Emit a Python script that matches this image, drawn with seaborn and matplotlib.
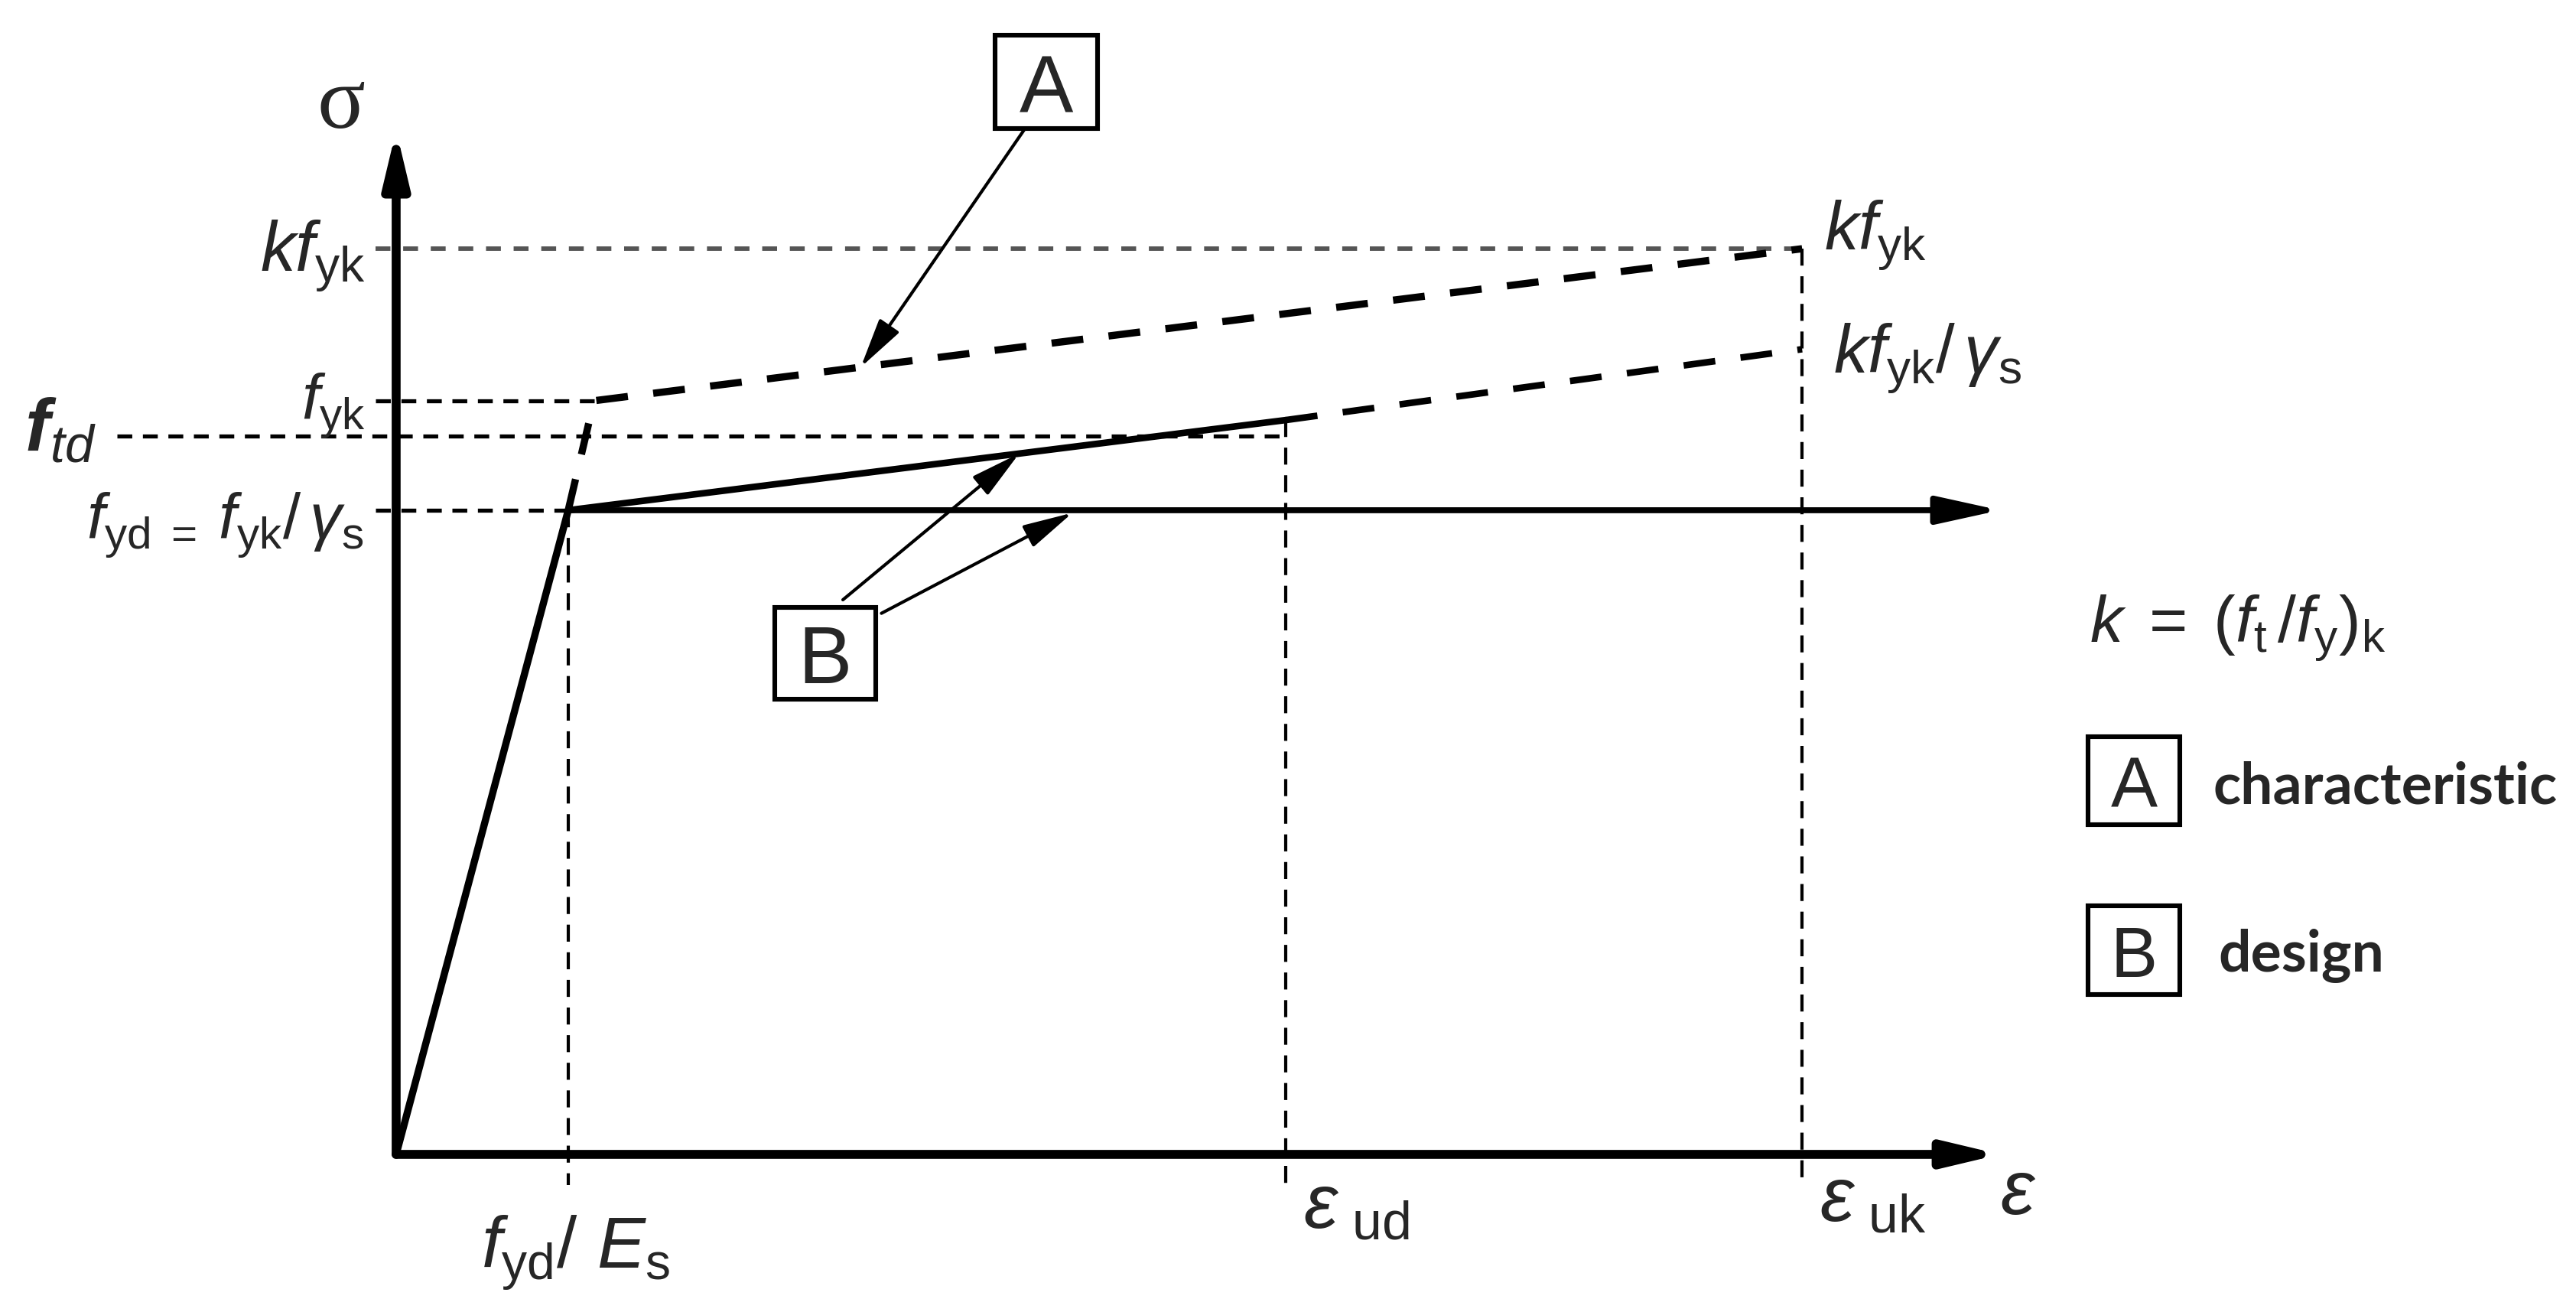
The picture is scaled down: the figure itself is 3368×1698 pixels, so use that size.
import numpy as np
import matplotlib
matplotlib.use("Agg")
import matplotlib.pyplot as plt
from matplotlib.patches import Rectangle
import seaborn as sns

# strain in units of fyd/Es, stress in units of fyd
eps_yd = 1.0
eps_yk = 1.15
eps_ud = 5.17
eps_uk = 8.17
eps_end = 9.32

f_yd = 1.0
f_td = 1.115
f_yk = 1.170
f_B_ud = 1.140
kf_yd = 1.25
kf_yk = 1.406
sigma_end = 1.59

elastic_eps = [0.0, eps_yd]
elastic_sig = [0.0, f_yd]
design_eps = [eps_yd, eps_ud]
design_sig = [f_yd, f_B_ud]
design_ext_eps = [eps_ud, eps_uk]
design_ext_sig = [f_B_ud, kf_yd]
char_eps = [eps_yd, eps_yk, eps_uk]
char_sig = [f_yd, f_yk, kf_yk]

sns.set_theme(style="white")
plt.rcParams["font.family"] = ["Liberation Sans", "DejaVu Sans"]
plt.rcParams["mathtext.fontset"] = "custom"
plt.rcParams["mathtext.rm"] = "Liberation Sans"
plt.rcParams["mathtext.it"] = "Liberation Sans:italic"
plt.rcParams["mathtext.bf"] = "Liberation Sans:bold"
plt.rcParams["mathtext.bfit"] = "Liberation Sans:italic:bold"
plt.rcParams["lines.scale_dashes"] = False

fig = plt.figure(figsize=(16.84, 8.495), dpi=200)
ax = fig.add_axes([0, 0, 1, 1])

# reference lines
thin = dict(color="black", lw=1.9, linestyle=(0, (7, 5)))
vert = dict(color="black", lw=1.5, linestyle=(0, (8, 5)))
ax.plot([-0.12, eps_uk], [kf_yk, kf_yk], color="#555555", lw=2.1, linestyle=(0, (7, 6)))
ax.plot([-0.12, eps_yk], [f_yk, f_yk], **thin)
ax.plot([-1.62, eps_ud], [f_td, f_td], **thin)
ax.plot([-0.12, eps_yd], [f_yd, f_yd], **thin)
ax.plot([eps_yd, eps_yd], [f_yd, -0.048], **vert)
ax.plot([eps_ud, eps_ud], [f_B_ud, -0.048], **vert)
ax.plot([eps_uk, eps_uk], [kf_yk, -0.048], **vert)

# stress-strain curves
solid = dict(ax=ax, color="black", sort=False, estimator=None)
sns.lineplot(x=elastic_eps, y=elastic_sig, lw=3.4, **solid)
sns.lineplot(x=design_eps, y=design_sig, lw=3.1, **solid)
sns.lineplot(x=design_ext_eps, y=design_ext_sig, lw=3.1, linestyle=(0, (15, 12)), **solid)
sns.lineplot(x=char_eps, y=char_sig, lw=3.4, linestyle=(0, (15, 12)), **solid)


def arrow(x0, y0, x1, y1, lw, scale, hl, hw):
    ax.annotate("", xy=(x1, y1), xytext=(x0, y0),
                arrowprops=dict(arrowstyle=f"-|>,head_length={hl},head_width={hw}",
                                lw=lw, color="black", shrinkA=0, shrinkB=0,
                                mutation_scale=scale))


# axes and the horizontal design branch
arrow(0, 0, eps_end, 0, 4.2, 50, 0.42, 0.1)
arrow(0, 0, 0, sigma_end, 4.2, 50, 0.42, 0.1)
arrow(eps_yd, f_yd, eps_end, f_yd, 2.8, 50, 0.5, 0.11)

# axis labels
ax.text(-0.32, 1.628, "σ", fontsize=42, family="Liberation Serif", ha="center", va="center")
ax.text(eps_end, -0.091, r"$\varepsilon$", fontsize=36, ha="left", va="baseline")

# stress labels, left
ax.text(-0.178, kf_yk - 0.034, r"$kf_{\rm yk}$", fontsize=33, ha="right", va="baseline")
ax.text(-0.178, f_yk - 0.028, r"$f_{\rm yk}$", fontsize=30, ha="right", va="baseline")
ax.text(-2.16, f_td - 0.022, r"$\mathbfit{f}_{td}$", fontsize=35, ha="left", va="baseline")
ax.text(-0.19, f_yd - 0.044, r"$f_{\rm yd\ =\ }f_{\rm yk}/\,\gamma_{\rm s}$",
        fontsize=30, ha="right", va="baseline")

# stress labels, right
ax.text(eps_uk + 0.13, kf_yk, r"$kf_{\rm yk}$", fontsize=32, ha="left", va="baseline")
ax.text(eps_uk + 0.18, 1.215, r"$kf_{\rm yk}/\,\gamma_{\rm s}$", fontsize=32,
        ha="left", va="baseline")

# strain labels
ax.text(eps_yd + 0.044, -0.175, r"$f_{\rm yd}/\ E_{\rm s}$", fontsize=34,
        ha="center", va="baseline")
ax.text(eps_ud + 0.1, -0.113, r"$\varepsilon_{\rm\ ud}$", fontsize=36, ha="left", va="baseline")
ax.text(eps_uk + 0.1, -0.103, r"$\varepsilon_{\rm\ uk}$", fontsize=36, ha="left", va="baseline")


def boxed(letter, cx, cy, w, h, size):
    ax.add_patch(Rectangle((cx - w / 2, cy - h / 2), w, h, fill=False,
                           edgecolor="black", lw=2.2))
    ax.text(cx, cy, letter, fontsize=size, ha="center", va="center_baseline")


# callout boxes
boxA = (3.78, 1.665, 0.596, 0.146)
boxB = (2.493, 0.778, 0.587, 0.1425)
boxed("A", *boxA, 38)
boxed("B", *boxB, 38)

tipA = 2.70
tipB1 = 3.62
tipB2 = 3.93
small = dict(lw=1.5, scale=40, hl=0.5, hw=0.12)
arrow(3.653, boxA[1] - boxA[3] / 2, tipA, np.interp(tipA, char_eps, char_sig), **small)
arrow(2.596, 0.861, tipB1, np.interp(tipB1, design_eps, design_sig), **small)
arrow(2.82, 0.840, tipB2, f_yd - 0.004, **small)

# key
ax.text(9.84, 0.798, r"$k\;=\;(f_{\rm t}\,/f_{\rm y})_{\rm k}$", fontsize=31,
        ha="left", va="baseline")
boxed("A", 10.10, 0.580, 0.533, 0.137, 33)
boxed("B", 10.10, 0.317, 0.533, 0.137, 33)
ax.text(10.56, 0.546, "characteristic", fontsize=27, family="Lato", fontweight="bold",
        ha="left", va="baseline")
ax.text(10.59, 0.285, "design", fontsize=27, family="Lato", fontweight="bold",
        ha="left", va="baseline")

ax.set_xlim(-2.302, 12.667)
ax.set_ylim(-0.2245, 1.7933)
ax.axis("off")

fig.savefig("out.png", dpi=200, facecolor="white")
